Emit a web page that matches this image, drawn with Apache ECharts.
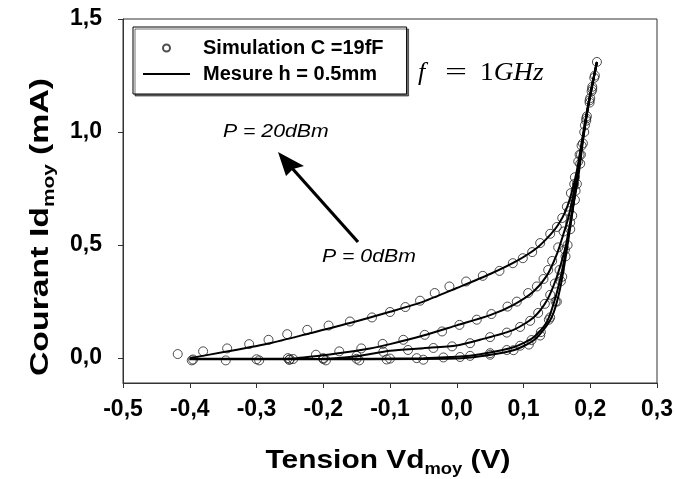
<!DOCTYPE html>
<html>
<head>
<meta charset="utf-8">
<script src="https://cdn.jsdelivr.net/npm/echarts@6/dist/echarts.min.js"></script>
<style>html,body{margin:0;padding:0;background:#fff}#c{width:676px;height:479px}</style>
</head>
<body>
<div id="c"></div>
<script>
// ---- tick values ----
const xTicks = [-0.5, -0.4, -0.3, -0.2, -0.1, 0.0, 0.1, 0.2, 0.3];
const yTicks = [0.0, 0.5, 1.0, 1.5];

// ---- measured curves (Mesure h = 0.5mm), P = 0 ... 20 dBm ----
const mx20 = [-0.40, -0.345, -0.28, -0.22, -0.16, -0.10, -0.05, 0.0, 0.05, 0.09, 0.12, 0.14, 0.152, 0.163, 0.172, 0.18, 0.188, 0.197, 0.21];
const my20 = [0.0, 0.029, 0.066, 0.11, 0.155, 0.205, 0.25, 0.31, 0.372, 0.43, 0.487, 0.545, 0.59, 0.65, 0.73, 0.83, 0.97, 1.12, 1.31];
const mx15 = [-0.40, -0.30, -0.24, -0.18, -0.13, -0.10, -0.05, 0.0, 0.05, 0.085, 0.115, 0.135, 0.15, 0.16, 0.168, 0.175, 0.182, 0.19, 0.198, 0.21];
const my15 = [-0.003, -0.003, 0.0, 0.02, 0.043, 0.062, 0.1, 0.145, 0.19, 0.236, 0.295, 0.365, 0.46, 0.55, 0.63, 0.73, 0.84, 0.99, 1.13, 1.31];
const mx10 = [-0.40, -0.20, -0.15, -0.10, -0.05, 0.0, 0.035, 0.085, 0.115, 0.135, 0.15, 0.162, 0.17, 0.178, 0.188, 0.197, 0.21];
const my10 = [-0.004, -0.003, 0.008, 0.033, 0.044, 0.056, 0.081, 0.125, 0.18, 0.255, 0.36, 0.48, 0.6, 0.74, 0.96, 1.12, 1.31];
const mx5  = [-0.40, -0.20, -0.05, 0.0, 0.035, 0.085, 0.115, 0.135, 0.15, 0.162, 0.172, 0.18, 0.188, 0.197, 0.21];
const my5  = [-0.004, -0.004, 0.0, 0.006, 0.017, 0.048, 0.092, 0.16, 0.29, 0.45, 0.63, 0.79, 0.95, 1.12, 1.31];
const mx0  = [-0.40, -0.20, 0.0, 0.035, 0.085, 0.115, 0.135, 0.145, 0.155, 0.165, 0.175, 0.182, 0.19, 0.198, 0.21];
const my0  = [-0.005, -0.005, -0.002, 0.008, 0.035, 0.078, 0.145, 0.2, 0.31, 0.48, 0.68, 0.8, 0.98, 1.13, 1.31];

// ---- simulation points (Simulation C = 19fF) ----
const sx20 = [-0.418, -0.38, -0.344, -0.311, -0.282, -0.254, -0.224, -0.192, -0.16, -0.127, -0.1, -0.077, -0.055, -0.033, -0.011, 0.014, 0.039, 0.064, 0.084, 0.099, 0.113, 0.125, 0.14, 0.15, 0.158, 0.165, 0.171, 0.177, 0.182, 0.187, 0.191, 0.195, 0.199, 0.203, 0.207, 0.21];
const sy20 = [0.018, 0.03, 0.043, 0.062, 0.081, 0.106, 0.125, 0.144, 0.162, 0.18, 0.204, 0.226, 0.254, 0.288, 0.317, 0.339, 0.364, 0.386, 0.42, 0.442, 0.469, 0.509, 0.55, 0.58, 0.62, 0.67, 0.73, 0.8, 0.87, 0.94, 1.0, 1.07, 1.13, 1.19, 1.25, 1.31];
const sx15 = [-0.253, -0.211, -0.176, -0.143, -0.111, -0.08, -0.048, -0.022, 0.004, 0.03, 0.052, 0.076, 0.09, 0.107, 0.12, 0.13, 0.137, 0.143, 0.152, 0.16, 0.168, 0.176, 0.184, 0.192, 0.2, 0.206];
const sy15 = [0.0, 0.015, 0.03, 0.043, 0.063, 0.081, 0.103, 0.118, 0.147, 0.17, 0.195, 0.228, 0.25, 0.288, 0.317, 0.35, 0.39, 0.43, 0.49, 0.56, 0.65, 0.77, 0.9, 1.03, 1.15, 1.24];
const sx10 = [-0.25, -0.2, -0.15, -0.11, -0.073, -0.035, -0.007, 0.02, 0.05, 0.075, 0.095, 0.11, 0.122, 0.132, 0.14, 0.147, 0.154, 0.162, 0.17, 0.178, 0.186, 0.194, 0.202];
const sy10 = [-0.005, 0.0, 0.01, 0.028, 0.036, 0.045, 0.052, 0.066, 0.093, 0.113, 0.138, 0.165, 0.2, 0.24, 0.28, 0.33, 0.39, 0.48, 0.6, 0.74, 0.9, 1.06, 1.18];
const sx5  = [-0.395, -0.3, -0.245, -0.2, -0.15, -0.1, -0.06, -0.02, 0.02, 0.05, 0.075, 0.095, 0.112, 0.126, 0.138, 0.148, 0.156, 0.163, 0.17, 0.177, 0.185, 0.194, 0.203];
const sy5  = [-0.006, -0.005, -0.004, -0.004, -0.003, -0.002, 0.0, 0.003, 0.01, 0.022, 0.036, 0.055, 0.08, 0.115, 0.17, 0.25, 0.34, 0.45, 0.57, 0.7, 0.86, 1.05, 1.2];
const sx0  = [-0.397, -0.346, -0.296, -0.251, -0.196, -0.146, -0.105, -0.05, 0.005, 0.05, 0.085, 0.108, 0.125, 0.14, 0.15, 0.158, 0.166, 0.173, 0.18, 0.189, 0.199];
const sy0  = [-0.01, -0.01, -0.01, -0.008, -0.01, -0.01, -0.006, -0.007, 0.005, 0.015, 0.035, 0.06, 0.1, 0.18, 0.25, 0.36, 0.5, 0.63, 0.77, 0.95, 1.14];

const LEG_SIM = 'Simulation C =19fF';
const LEG_MES = 'Mesure h = 0.5mm';

const FONT = '"Liberation Sans", Arial, sans-serif';
const SERIF = '"Liberation Serif", "Times New Roman", serif';
const AX = '#333';

function pairs(xs, ys) { return xs.map((x, i) => [x, ys[i]]); }
function fmt(v) { return (Math.round(v * 10) / 10).toFixed(1).replace('.', ','); }

const measured = [[mx0, my0], [mx5, my5], [mx10, my10], [mx15, my15], [mx20, my20]];
const simulated = [[sx0, sy0], [sx5, sy5], [sx10, sy10], [sx15, sy15], [sx20, sy20]];

const series = [];
simulated.forEach(s => series.push({
  type: 'scatter', name: LEG_SIM, data: pairs(s[0], s[1]),
  symbol: 'circle', symbolSize: 9,
  itemStyle: { color: 'rgba(0,0,0,0)', borderColor: '#222', borderWidth: 1 },
  z: 2, silent: true
}));
measured.forEach(m => series.push({
  type: 'line', name: LEG_MES, data: pairs(m[0], m[1]),
  symbol: 'none', smooth: 0.25,
  lineStyle: { color: '#000', width: 2 }, itemStyle: { color: '#000' },
  z: 3, silent: true
}));

const titleRich = {
  a: { fontFamily: FONT, fontWeight: 'bold', fontSize: 26, lineHeight: 34, fill: '#000' },
  s: { fontFamily: FONT, fontWeight: 'bold', fontSize: 16, lineHeight: 12, verticalAlign: 'bottom', fill: '#000' }
};

const chart = echarts.init(document.getElementById('c'));
chart.setOption({
  animation: false,
  backgroundColor: '#fff',
  grid: { left: 123, right: 19, top: 19, bottom: 96, show: true, borderColor: AX, borderWidth: 1, backgroundColor: 'transparent' },
  xAxis: {
    type: 'value', min: xTicks[0], max: xTicks[xTicks.length - 1], interval: 0.1,
    axisLine: { show: true, onZero: false, lineStyle: { color: AX, width: 1 } },
    axisTick: { show: true, inside: false, length: 5, lineStyle: { color: AX } },
    axisLabel: { fontFamily: FONT, fontWeight: 'bold', fontSize: 23, color: '#000', margin: 15, formatter: fmt },
    splitLine: { show: false }
  },
  yAxis: {
    type: 'value', min: -0.11, max: yTicks[yTicks.length - 1],
    axisLine: { show: true, onZero: false, lineStyle: { color: AX, width: 1 } },
    axisTick: { show: true, inside: false, length: 5, lineStyle: { color: AX }, customValues: yTicks },
    axisLabel: { fontFamily: FONT, fontWeight: 'bold', fontSize: 23, color: '#000', margin: 21, formatter: fmt, customValues: yTicks },
    splitLine: { show: false }
  },
  legend: {
    data: [{ name: LEG_SIM }, { name: LEG_MES, icon: 'path://M0,0L47,0L47,2L0,2Z' }],
    orient: 'vertical', left: 133, top: 27,
    itemWidth: 47, itemHeight: 7, itemGap: 6, padding: [11, 23, 10, 10],
    borderColor: '#000', borderWidth: 1, backgroundColor: '#fff',
    shadowColor: 'rgba(0,0,0,0.55)', shadowOffsetX: 2, shadowOffsetY: 2, shadowBlur: 0,
    selectedMode: false,
    textStyle: { fontFamily: FONT, fontWeight: 'bold', fontSize: 20, color: '#000', padding: [0, 0, 0, 8] }
  },
  graphic: [
    { type: 'text', x: 388, y: 461, scaleX: 1.15, silent: true,
      style: { text: '{a|Tension Vd}{s|moy}{a| (V)}', align: 'center', verticalAlign: 'middle', rich: titleRich } },
    { type: 'text', x: 41, y: 227, rotation: Math.PI / 2, scaleX: 1.3, silent: true,
      style: { text: '{a|Courant Id}{s|moy}{a| (mA)}', align: 'center', verticalAlign: 'middle', rich: titleRich } },
    { type: 'text', x: 418, y: 73, silent: true,
      style: { text: 'f', fontFamily: SERIF, fontStyle: 'italic', fontSize: 26, fill: '#000', align: 'left', verticalAlign: 'middle' } },
    { type: 'text', x: 445, y: 73, scaleX: 1.5, silent: true,
      style: { text: '=', fontFamily: SERIF, fontSize: 26, fill: '#000', align: 'left', verticalAlign: 'middle' } },
    { type: 'text', x: 480, y: 73, scaleX: 1.05, silent: true,
      style: { text: '{n|1}{i|GHz}', align: 'left', verticalAlign: 'middle',
        rich: { n: { fontFamily: SERIF, fontSize: 26, fill: '#000' }, i: { fontFamily: SERIF, fontStyle: 'italic', fontSize: 26, fill: '#000' } } } },
    { type: 'text', x: 223, y: 132, scaleX: 1.18, silent: true,
      style: { text: 'P = 20dBm', fontFamily: FONT, fontStyle: 'italic', fontSize: 18, fill: '#000', align: 'left', verticalAlign: 'middle' } },
    { type: 'text', x: 322, y: 257, scaleX: 1.18, silent: true,
      style: { text: 'P = 0dBm', fontFamily: FONT, fontStyle: 'italic', fontSize: 18, fill: '#000', align: 'left', verticalAlign: 'middle' } },
    { type: 'line', silent: true, shape: { x1: 358, y1: 242, x2: 291, y2: 167 }, style: { stroke: '#000', lineWidth: 3.2 } },
    { type: 'polygon', silent: true, shape: { points: [[278, 152], [304, 166], [293, 169], [286, 176]] }, style: { fill: '#000' } }
  ],
  series: series
});
</script>
</body>
</html>
